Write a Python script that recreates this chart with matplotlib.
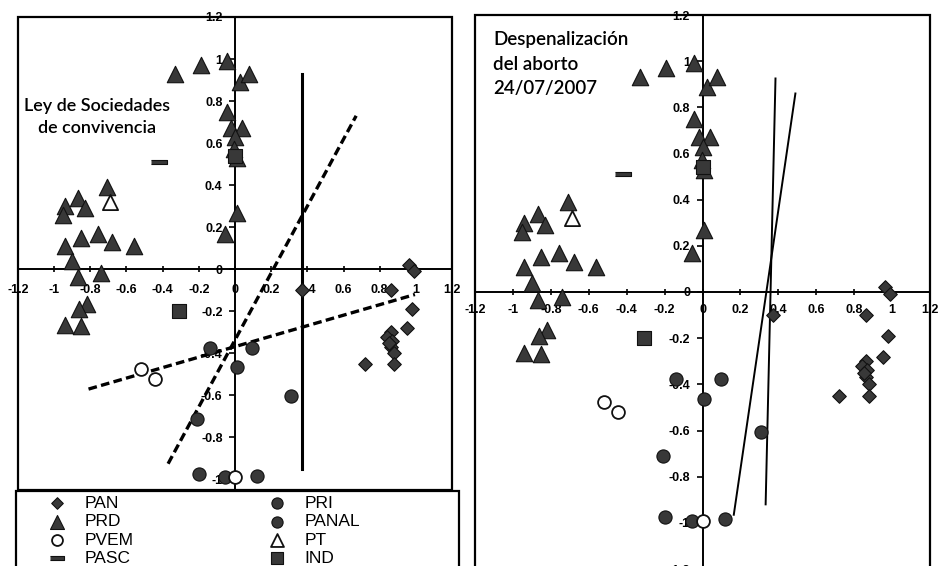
import matplotlib

matplotlib.use("agg")
import matplotlib.pyplot as plt
from matplotlib.patches import Rectangle
from matplotlib.ticker import FuncFormatter, MultipleLocator

# ideal points by party (dimension 1, dimension 2)
pan_x = [0.96, 0.99, 0.37, 0.86, 0.98, 0.95, 0.86, 0.84, 0.87, 0.86, 0.88, 0.72, 0.88, 0.85]
pan_y = [0.02, -0.01, -0.10, -0.10, -0.19, -0.28, -0.30, -0.32, -0.34, -0.37, -0.40, -0.45, -0.45, -0.35]

prd_x = [-0.33, -0.19, -0.045, 0.025, 0.075, -0.045, -0.02, 0.04, 0.0, -0.005, 0.01, 0.01, -0.055,
         -0.94, -0.87, -0.83, -0.71, -0.95,
         -0.94, -0.85, -0.755, -0.68, -0.56,
         -0.90, -0.87, -0.74, -0.82, -0.86, -0.94, -0.85]
prd_y = [0.93, 0.97, 0.99, 0.89, 0.93, 0.75, 0.67, 0.67, 0.63, 0.57, 0.53, 0.27, 0.17,
         0.30, 0.34, 0.29, 0.39, 0.26,
         0.11, 0.15, 0.17, 0.13, 0.11,
         0.04, -0.035, -0.02, -0.165, -0.19, -0.265, -0.27]

pvem_x = [-0.52, -0.445, 0.0]
pvem_y = [-0.475, -0.52, -0.99]

pasc_x = [-0.42]
pasc_y = [0.51]

pri_x = [-0.14, 0.095, 0.01, 0.31, -0.21, -0.20]
pri_y = [-0.375, -0.375, -0.465, -0.605, -0.71, -0.975]

panal_x = [-0.055, 0.12]
panal_y = [-0.99, -0.985]

pt_x = [-0.69]
pt_y = [0.32]

ind_x = [-0.31, 0.0]
ind_y = [-0.20, 0.54]

# cutting lines for each vote
sociedades_solid = ([0.37, 0.37], [-0.95, 0.93])
sociedades_dash1 = ([-0.37, 0.67], [-0.925, 0.73])
sociedades_dash2 = ([-0.81, 0.995], [-0.57, -0.12])
aborto_line1 = ([0.385, 0.333], [0.925, -0.92])
aborto_line2 = ([0.49, 0.165], [0.86, -0.965])

plt.rcParams["font.family"] = ["Liberation Sans", "DejaVu Sans"]
plt.rcParams["font.weight"] = "bold"

W, H = 940, 566
fig = plt.figure(figsize=(W / 100, H / 100), dpi=100)


def px_axes(left, top, right, bottom):
    return fig.add_axes([left / W, 1 - bottom / H, (right - left) / W, (bottom - top) / H])


DARK = "#383838"


def draw_points(ax):
    kw = dict(edgecolors="#111111", linewidths=0.8, zorder=4)
    handles = [
        ax.scatter(pan_x, pan_y, marker="D", s=48, c=DARK, **kw),
        ax.scatter(prd_x, prd_y, marker="^", s=140, c=DARK, **kw),
        ax.scatter(pvem_x, pvem_y, marker="o", s=85, c="white", edgecolors="#111111",
                   linewidths=1.3, zorder=5),
        ax.scatter(pasc_x, pasc_y, marker=[(-1, -0.3), (1, -0.3), (1, 0.3), (-1, 0.3)],
                   s=140, c=DARK, **kw),
        ax.scatter(pri_x, pri_y, marker="o", s=90, c=DARK, **kw),
        ax.scatter(panal_x, panal_y, marker="o", s=90, c=DARK, **kw),
        ax.scatter(pt_x, pt_y, marker="^", s=120, c="white", edgecolors="#111111",
                   linewidths=1.3, zorder=4),
        ax.scatter(ind_x, ind_y, marker="s", s=115, c=DARK, **kw),
    ]
    return handles


def setup(ax, ylo, xpad, ypad):
    ax.set_xlim(-1.2, 1.2)
    ax.set_ylim(ylo, 1.2)
    ax.spines["left"].set_position(("data", 0))
    ax.spines["bottom"].set_position(("data", 0))
    for s in ("left", "bottom"):
        ax.spines[s].set_linewidth(1.4)
        ax.spines[s].set_zorder(3)
    ax.spines[["top", "right"]].set_visible(False)
    ax.add_patch(Rectangle((0, 0), 1, 1, transform=ax.transAxes, fill=False,
                           lw=1.6, ec="black", clip_on=False, zorder=6))
    ax.xaxis.set_major_locator(MultipleLocator(0.2))
    ax.yaxis.set_major_locator(MultipleLocator(0.2))
    fmt = FuncFormatter(lambda v, p: f"{round(v, 1) + 0:g}")
    ax.xaxis.set_major_formatter(fmt)
    ax.yaxis.set_major_formatter(fmt)
    ax.tick_params(axis="x", direction="inout", length=5, width=1.2, pad=xpad, labelsize=9)
    ax.tick_params(axis="y", direction="out", length=4, width=1.2, pad=ypad, labelsize=9)


# left: ley de sociedades de convivencia
ax1 = px_axes(18, 17, 452, 490)
setup(ax1, -1.05, 8, 5)
ax1.plot(*sociedades_solid, color="black", lw=2.2, zorder=2)
ax1.plot(*sociedades_dash1, color="black", lw=2.4, dashes=(2.6, 1.3), zorder=2)
ax1.plot(*sociedades_dash2, color="black", lw=2.4, dashes=(2.6, 1.3), zorder=2)
handles = draw_points(ax1)
ax1.text(0.182, 0.788, "Ley de Sociedades\nde convivencia", transform=ax1.transAxes,
         ha="center", va="center", fontsize=13, family="Lato", weight="semibold",
         linespacing=1.45)

# right: despenalizacion del aborto
ax2 = px_axes(475, 15, 930, 569)
setup(ax2, -1.2, 6, 5)
ax2.plot(*aborto_line1, color="black", lw=1.4, zorder=2)
ax2.plot(*aborto_line2, color="black", lw=1.4, zorder=2)
draw_points(ax2)
ax2.text(0.04, 0.971, "Despenalización\ndel aborto\n24/07/2007", transform=ax2.transAxes,
         ha="left", va="top", fontsize=13.5, family="Lato", weight="semibold",
         linespacing=1.55)

# shared legend below the left panel
labels = ["PAN", "PRD", "PVEM", "PASC", "PRI", "PANAL", "PT", "IND"]
fig.add_artist(Rectangle((16 / W, -0.02), (459 - 16) / W, (566 - 491) / H + 0.02,
                         transform=fig.transFigure, fc="white", ec="black", lw=1.6, zorder=1))
fig.legend(handles, labels, ncol=2, loc="upper left",
           bbox_to_anchor=(48.3 / W, 1 - 495.5 / H), borderaxespad=0, borderpad=0,
           frameon=False, markerscale=0.85, handlelength=1.0, handletextpad=1.07,
           columnspacing=7.8, labelspacing=0.19,
           prop={"family": "Liberation Sans", "weight": "normal", "size": 12.5})

fig.savefig("out.png", dpi=100)
